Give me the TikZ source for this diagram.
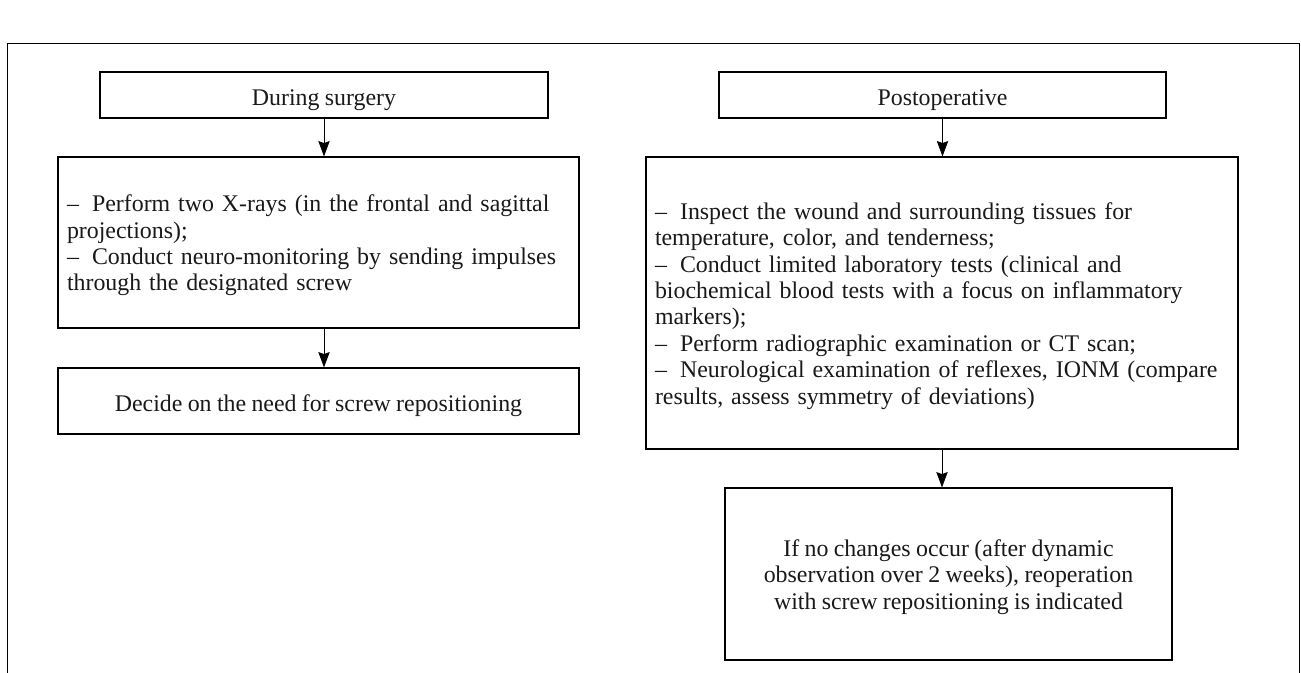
\documentclass[tikz,border=0pt]{standalone}
\usepackage{fontspec}
\setmainfont{Liberation Serif}[WordSpace=0.9]
\usetikzlibrary{arrows.meta}
\hyphenpenalty=10000
\exhyphenpenalty=10000
\begin{document}
\begin{tikzpicture}[x=0.75pt,y=-0.75pt,
  txt/.style={font=\fontsize{17.9}{19.8}\selectfont, text=black!90},
  box/.style={draw, line width=0.9pt, inner sep=0pt, txt, align=center},
  onebox/.style={box, text height=16pt, text depth=0.5pt},
  lbox/.style={draw, line width=0.9pt, inner xsep=6.75pt, inner ysep=0pt, txt, align=left},
  arr/.style={line width=0.6pt, -{Stealth[length=11.5pt,width=8.5pt,inset=1.5pt]}},
  frame/.style={line width=0.7pt}]
\useasboundingbox (0,0) rectangle (1301,673);
\draw[frame] (7,673) -- (7,43) -- (1299,43) -- (1299,673);
\newcommand{\dsh}{--\hspace{0.55em}}
\newcommand{\tstrut}{\rule{0pt}{17pt}}
% left column
\node[onebox, minimum width=336pt, minimum height=34.5pt] (ds) at (324,95) {During surgery};
\node[lbox, text width=377.25pt, minimum height=128.25pt] (lm) at (318.5,242.5)
 {\tstrut\dsh Perform two X-rays (in the frontal and sagittal\\ projections);\\ \dsh Conduct neuro-monitoring by sending impulses\\ through the designated screw};
\node[onebox, minimum width=390.75pt, minimum height=49.5pt] (dec) at (318.5,401) {Decide on the need for screw repositioning};
% right column
\node[onebox, minimum width=335.25pt, minimum height=34.5pt] (po) at (942.5,95) {Postoperative};
\node[lbox, text width=430.5pt, minimum height=219pt] (rm) at (942,303)
 {\tstrut\dsh Inspect the wound and surrounding tissues for\\ temperature, color, and tenderness;\\ \dsh Conduct limited laboratory tests (clinical and\\ biochemical blood tests with a focus on inflammatory\\ markers);\\ \dsh Perform radiographic examination or CT scan;\\ \dsh Neurological examination of reflexes, IONM (compare\\ results, assess symmetry of deviations)};
\node[box, minimum width=335.25pt, minimum height=129pt] (rb) at (948.5,574)
 {\tstrut If no changes occur (after dynamic\\ observation over 2 weeks), reoperation\\ with screw repositioning is indicated};
% arrows
\draw[arr] (ds.south) -- (ds.south |- lm.north);
\draw[arr] (lm.south -| ds.south) -- (ds.south |- dec.north);
\draw[arr] (po.south) -- (po.south |- rm.north);
\draw[arr] (rm.south) -- (rm.south |- rb.north);
\end{tikzpicture}
\end{document}
